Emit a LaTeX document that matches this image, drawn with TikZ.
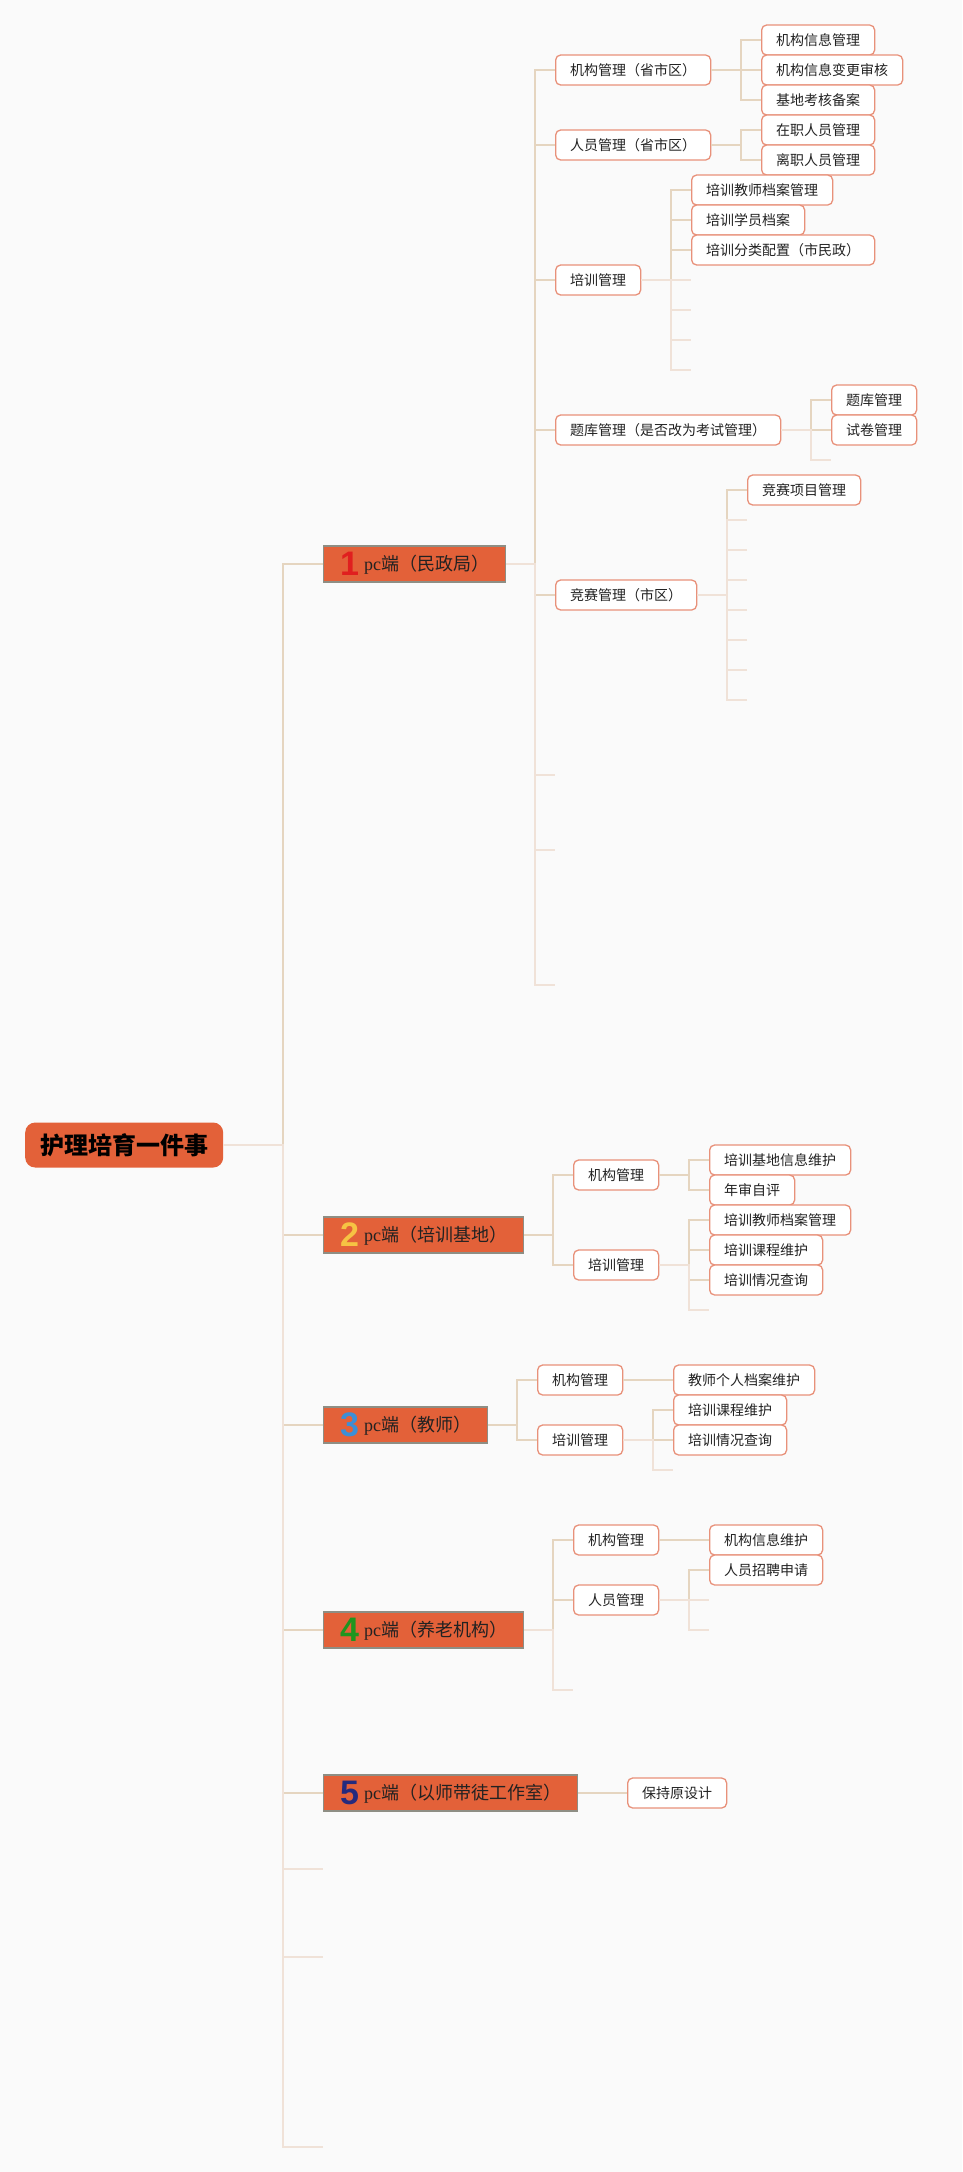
\documentclass[tikz,border=0pt]{standalone}
\usepackage{fontspec}
\newfontfamily\cjk{Noto Sans CJK SC}
\newfontfamily\pcf{Liberation Serif}
\newfontfamily\numf{Liberation Sans}
\definecolor{bg}{HTML}{FAFAFA}
\definecolor{orng}{HTML}{E36139}
\definecolor{pcborder}{HTML}{8E8E84}
\definecolor{boxc}{HTML}{E8917A}
\definecolor{lnA}{HTML}{E5D5C0}
\definecolor{lnB}{HTML}{F0E2D8}
\definecolor{txt}{HTML}{222222}
\definecolor{cA}{HTML}{E01F1F}
\definecolor{cB}{HTML}{F6C343}
\definecolor{cC}{HTML}{3C8FD6}
\definecolor{cD}{HTML}{1F951F}
\definecolor{cE}{HTML}{252A7E}
\newcommand\pcnum[2]{\raisebox{-5pt}{\numf\bfseries\fontsize{34}{34}\selectfont\color{#1}#2}\hspace{5pt}{\pcf pc}}
\newcommand\mylink[2]{\draw[ln] (#1.east) -| ([xshift=-20pt]#2.west) -- (#2.west);}
\newcommand\myempty[2]{\draw[lnp] (#1.east) -| ([xshift=-20pt]#2) -- (#2);}
\tikzset{
  leaf/.style={draw=boxc, line width=1.3pt, fill=white, rounded corners=5pt,
    minimum height=30pt, inner xsep=14.5pt, inner ysep=0pt, anchor=west,
    text=txt, font=\cjk\fontsize{14}{16}\selectfont},
  pcbox/.style={draw=pcborder, line width=1.2pt, fill=orng, minimum height=36pt,
    inner sep=0pt, anchor=west, text=txt, font=\cjk\fontsize{18}{20}\selectfont},
  rootbox/.style={fill=orng, rounded corners=10pt, minimum height=45pt,
    minimum width=198pt, inner sep=0pt, anchor=west, text=black,
    font=\cjk\bfseries\fontsize{24}{26}\selectfont},
  ln/.style={draw=lnA, line width=1.6pt},
  lnp/.style={draw=lnB, line width=1.4pt},
}
\begin{document}
\begin{tikzpicture}[x=1pt,y=-1pt]
\path[fill=bg] (0,0) rectangle (962,2172);
\useasboundingbox (0,0) rectangle (962,2172);

% root
\node[rootbox] (root) at (25,1145) {护理培育一件事};

% level 1
\node[pcbox, minimum width=182pt] (n1) at (323,564) {\pcnum{cA}{1}端（民政局）};
\node[pcbox, minimum width=200pt] (n2) at (323,1235) {\pcnum{cB}{2}端（培训基地）};
\node[pcbox, minimum width=164pt] (n3) at (323,1425) {\pcnum{cC}{3}端（教师）};
\node[pcbox, minimum width=200pt] (n4) at (323,1630) {\pcnum{cD}{4}端（养老机构）};
\node[pcbox, minimum width=254pt] (n5) at (323,1793) {\pcnum{cE}{5}端（以师带徒工作室）};
\coordinate (t1) at (323,1869);
\coordinate (t2) at (323,1957);
\coordinate (t3) at (323,2147);

% n1 children
\node[leaf] (a1) at (555,70) {机构管理（省市区）};
\node[leaf] (a2) at (555,145) {人员管理（省市区）};
\node[leaf] (a3) at (555,280) {培训管理};
\node[leaf] (a4) at (555,430) {题库管理（是否改为考试管理）};
\node[leaf] (a5) at (555,595) {竞赛管理（市区）};
\coordinate (ae1) at (555,775);
\coordinate (ae2) at (555,850);
\coordinate (ae3) at (555,985);

\node[leaf] (a11) at (761,40) {机构信息管理};
\node[leaf] (a12) at (761,70) {机构信息变更审核};
\node[leaf] (a13) at (761,100) {基地考核备案};
\node[leaf] (a21) at (761,130) {在职人员管理};
\node[leaf] (a22) at (761,160) {离职人员管理};
\node[leaf] (a31) at (691,190) {培训教师档案管理};
\node[leaf] (a32) at (691,220) {培训学员档案};
\node[leaf] (a33) at (691,250) {培训分类配置（市民政）};
\coordinate (a3e1) at (691,280);
\coordinate (a3e2) at (691,310);
\coordinate (a3e3) at (691,340);
\coordinate (a3e4) at (691,370);
\node[leaf] (a41) at (831,400) {题库管理};
\node[leaf] (a42) at (831,430) {试卷管理};
\coordinate (a4e1) at (831,460);
\node[leaf] (a51) at (747,490) {竞赛项目管理};
\coordinate (a5e1) at (747,520);
\coordinate (a5e2) at (747,550);
\coordinate (a5e3) at (747,580);
\coordinate (a5e4) at (747,610);
\coordinate (a5e5) at (747,640);
\coordinate (a5e6) at (747,670);
\coordinate (a5e7) at (747,700);

% n2 children
\node[leaf] (b1) at (573,1175) {机构管理};
\node[leaf] (b2) at (573,1265) {培训管理};
\node[leaf] (b11) at (709,1160) {培训基地信息维护};
\node[leaf] (b12) at (709,1190) {年审自评};
\node[leaf] (b21) at (709,1220) {培训教师档案管理};
\node[leaf] (b22) at (709,1250) {培训课程维护};
\node[leaf] (b23) at (709,1280) {培训情况查询};
\coordinate (b2e1) at (709,1310);

% n3 children
\node[leaf] (c1) at (537,1380) {机构管理};
\node[leaf] (c2) at (537,1440) {培训管理};
\node[leaf] (c11) at (673,1380) {教师个人档案维护};
\node[leaf] (c21) at (673,1410) {培训课程维护};
\node[leaf] (c22) at (673,1440) {培训情况查询};
\coordinate (c2e1) at (673,1470);

% n4 children
\node[leaf] (d1) at (573,1540) {机构管理};
\node[leaf] (d2) at (573,1600) {人员管理};
\coordinate (de1) at (573,1690);
\node[leaf] (d11) at (709,1540) {机构信息维护};
\node[leaf] (d21) at (709,1570) {人员招聘申请};
\coordinate (d2e1) at (709,1600);
\coordinate (d2e2) at (709,1630);

% n5 child
\node[leaf] (e11) at (627,1793) {保持原设计};

% connectors: trunk
\foreach \c in {n1,n2,n3,n4,n5}{
  \draw[ln] (root.east) -| ([xshift=-40pt]\c.west) -- (\c.west);
}
\foreach \c in {t1,t2,t3}{
  \draw[lnp] (root.east) -| ([xshift=-40pt]\c) -- (\c);
}
% n1
\foreach \c in {a1,a2,a3,a4,a5}{\mylink{n1}{\c}}
\foreach \c in {ae1,ae2,ae3}{\myempty{n1}{\c}}
\foreach \c in {a11,a12,a13}{\mylink{a1}{\c}}
\foreach \c in {a21,a22}{\mylink{a2}{\c}}
\foreach \c in {a31,a32,a33}{\mylink{a3}{\c}}
\foreach \c in {a3e1,a3e2,a3e3,a3e4}{\myempty{a3}{\c}}
\foreach \c in {a41,a42}{\mylink{a4}{\c}}
\myempty{a4}{a4e1}
\mylink{a5}{a51}
\foreach \c in {a5e1,a5e2,a5e3,a5e4,a5e5,a5e6,a5e7}{\myempty{a5}{\c}}
% n2
\foreach \c in {b1,b2}{\mylink{n2}{\c}}
\foreach \c in {b11,b12}{\mylink{b1}{\c}}
\foreach \c in {b21,b22,b23}{\mylink{b2}{\c}}
\myempty{b2}{b2e1}
% n3
\foreach \c in {c1,c2}{\mylink{n3}{\c}}
\draw[ln] (c1.east) -- (c11.west);
\foreach \c in {c21,c22}{\mylink{c2}{\c}}
\myempty{c2}{c2e1}
% n4
\foreach \c in {d1,d2}{\mylink{n4}{\c}}
\myempty{n4}{de1}
\draw[ln] (d1.east) -- (d11.west);
\mylink{d2}{d21}
\foreach \c in {d2e1,d2e2}{\myempty{d2}{\c}}
% n5
\draw[ln] (n5.east) -- (e11.west);
\end{tikzpicture}
\end{document}
